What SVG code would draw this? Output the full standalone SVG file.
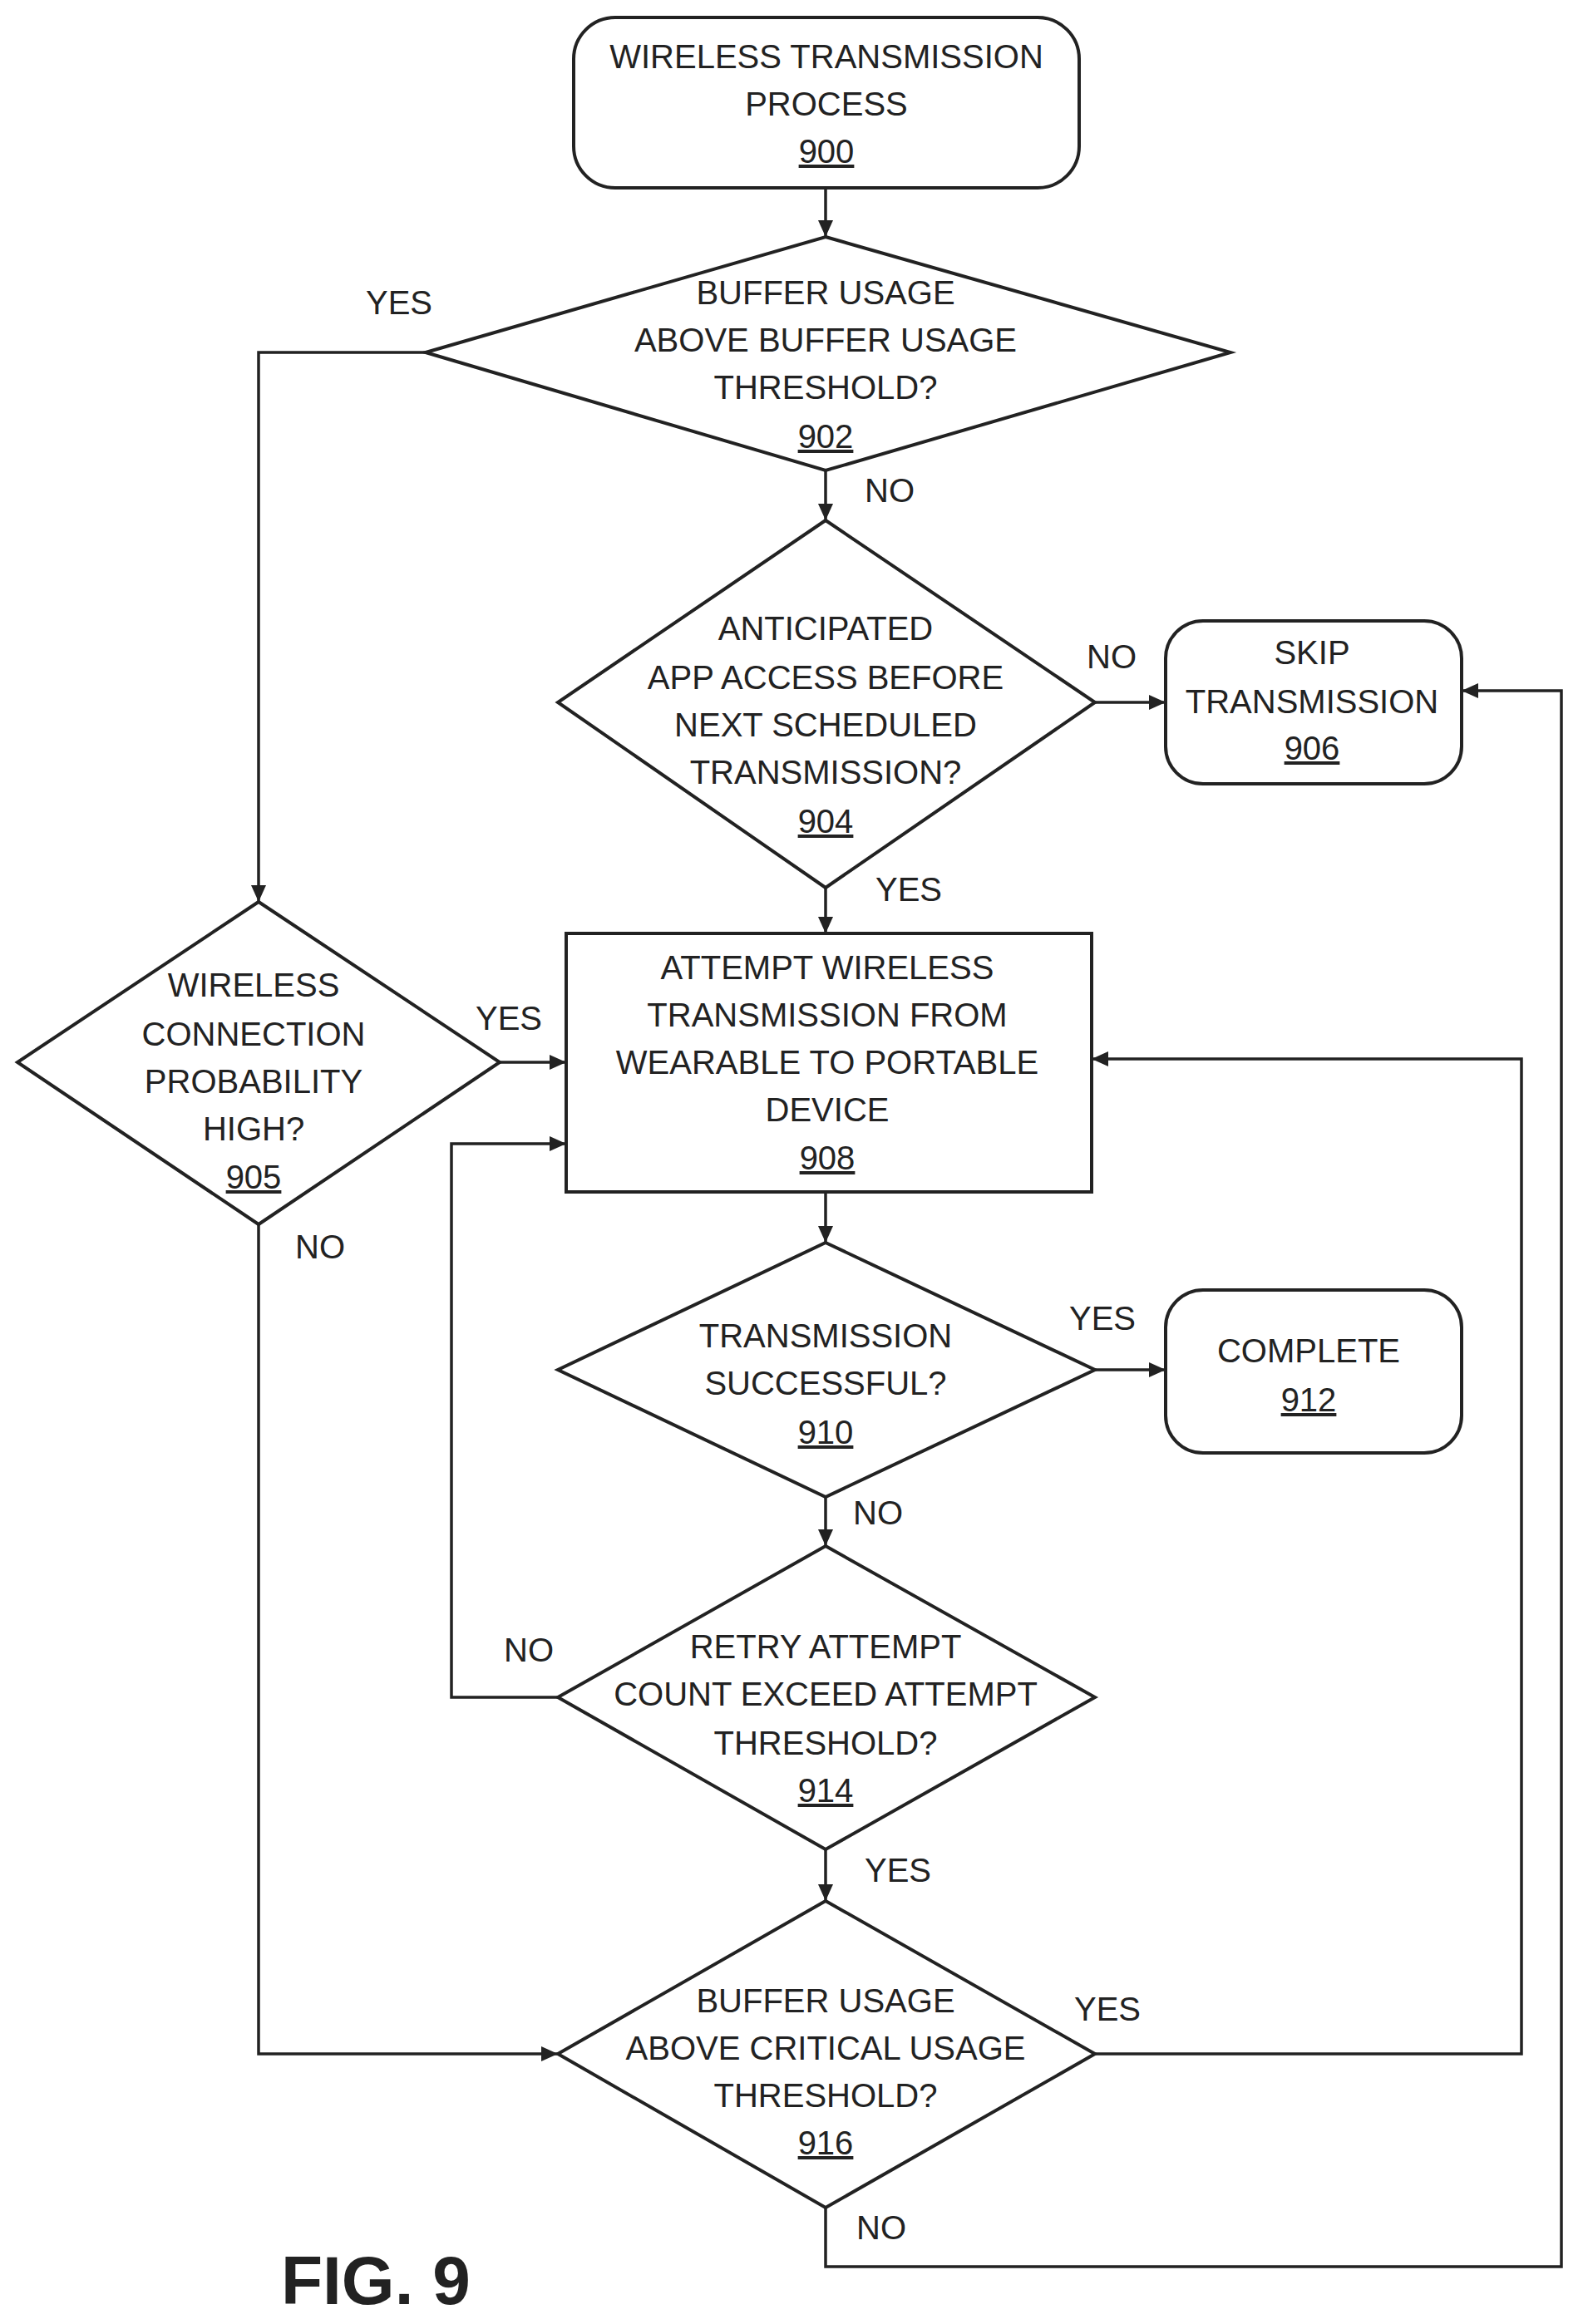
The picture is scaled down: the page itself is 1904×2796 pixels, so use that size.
<svg xmlns="http://www.w3.org/2000/svg" width="1904" height="2796" viewBox="0 0 1904 2796">
<style>
.s{fill:#fff;stroke:#222;stroke-width:4}
.c{fill:none;stroke:#222;stroke-width:3.5}
text{font-family:"Liberation Sans",Arial,sans-serif;font-size:40px;fill:#222;text-anchor:middle}
.u{text-decoration:underline}
.l{text-anchor:start}
</style>
<defs><marker id="a" markerWidth="10" markerHeight="10" refX="9" refY="5" orient="auto" markerUnits="userSpaceOnUse" viewBox="0 0 10 10"><path d="M0,0L10,5L0,10z" fill="#222" transform="scale(1)"/></marker>
<marker id="b" markerWidth="22" markerHeight="22" refX="20" refY="11" orient="auto" markerUnits="userSpaceOnUse"><path d="M0,2L20,11L0,20z" fill="#222"/></marker></defs>
<rect width="1904" height="2796" fill="#fff"/>
<g id="connectors" class="c" marker-end="url(#b)">
<path d="M993,226V285"/>
<path d="M512,424H311V1085"/>
<path d="M993,566V626"/>
<path d="M1317,845H1402"/>
<path d="M993,1068V1123"/>
<path d="M601,1278H681"/>
<path d="M311,1473V2471H671"/>
<path d="M993,1434V1495"/>
<path d="M1317,1648H1402"/>
<path d="M993,1801V1860"/>
<path d="M671,2042H543V1376H681"/>
<path d="M993,2225V2287"/>
<path d="M1317,2471H1830V1274H1313"/>
<path d="M993,2656V2727H1878V831H1758"/>
</g>
<g id="labels">
<text x="480" y="378">YES</text><text x="1070" y="604">NO</text><text x="1337" y="804">NO</text>
<text x="1093" y="1084">YES</text><text x="612" y="1239">YES</text><text x="385" y="1514">NO</text>
<text x="1326" y="1600">YES</text><text x="1056" y="1834">NO</text><text x="636" y="1999">NO</text>
<text x="1080" y="2264">YES</text><text x="1332" y="2431">YES</text><text x="1060" y="2694">NO</text>
</g>
<g id="n900"><rect class="s" x="690" y="21" width="608" height="205" rx="50"/><text x="994" y="82">WIRELESS TRANSMISSION</text><text x="994" y="139">PROCESS</text><text class="u" x="994" y="196">900</text></g>
<g id="n902"><path class="s" d="M993,285L1480,424L993,566L512,424Z"/><text x="993" y="366">BUFFER USAGE</text><text x="993" y="423">ABOVE BUFFER USAGE</text><text x="993" y="480">THRESHOLD?</text><text class="u" x="993" y="539">902</text></g>
<g id="n904"><path class="s" d="M993,626L1317,845L993,1068L671,845Z"/><text x="993" y="770">ANTICIPATED</text><text x="993" y="829">APP ACCESS BEFORE</text><text x="993" y="886">NEXT SCHEDULED</text><text x="993" y="943">TRANSMISSION?</text><text class="u" x="993" y="1002">904</text></g>
<g id="n906"><rect class="s" x="1402" y="747" width="356" height="196" rx="45"/><text x="1578" y="799">SKIP</text><text x="1578" y="858">TRANSMISSION</text><text class="u" x="1578" y="914">906</text></g>
<g id="n908"><rect class="s" x="681" y="1123" width="632" height="311"/><text x="995" y="1178">ATTEMPT WIRELESS</text><text x="995" y="1235">TRANSMISSION FROM</text><text x="995" y="1292">WEARABLE TO PORTABLE</text><text x="995" y="1349">DEVICE</text><text class="u" x="995" y="1407">908</text></g>
<g id="n905"><path class="s" d="M311,1085L601,1278L311,1473L21,1278Z"/><text x="305" y="1199">WIRELESS</text><text x="305" y="1258">CONNECTION</text><text x="305" y="1315">PROBABILITY</text><text x="305" y="1372">HIGH?</text><text class="u" x="305" y="1430">905</text></g>
<g id="n910"><path class="s" d="M993,1495L1317,1648L993,1801L671,1648Z"/><text x="993" y="1621">TRANSMISSION</text><text x="993" y="1678">SUCCESSFUL?</text><text class="u" x="993" y="1737">910</text></g>
<g id="n912"><rect class="s" x="1402" y="1552" width="356" height="196" rx="45"/><text x="1574" y="1639">COMPLETE</text><text class="u" x="1574" y="1698">912</text></g>
<g id="n914"><path class="s" d="M993,1860L1317,2042L993,2225L671,2042Z"/><text x="993" y="1995">RETRY ATTEMPT</text><text x="993" y="2052">COUNT EXCEED ATTEMPT</text><text x="993" y="2111">THRESHOLD?</text><text class="u" x="993" y="2168">914</text></g>
<g id="n916"><path class="s" d="M993,2287L1317,2471L993,2656L671,2471Z"/><text x="993" y="2421">BUFFER USAGE</text><text x="993" y="2478">ABOVE CRITICAL USAGE</text><text x="993" y="2535">THRESHOLD?</text><text class="u" x="993" y="2592">916</text></g>
<text class="l" x="338" y="2772" style="font-size:82px;font-weight:bold">FIG. 9</text>
</svg>
